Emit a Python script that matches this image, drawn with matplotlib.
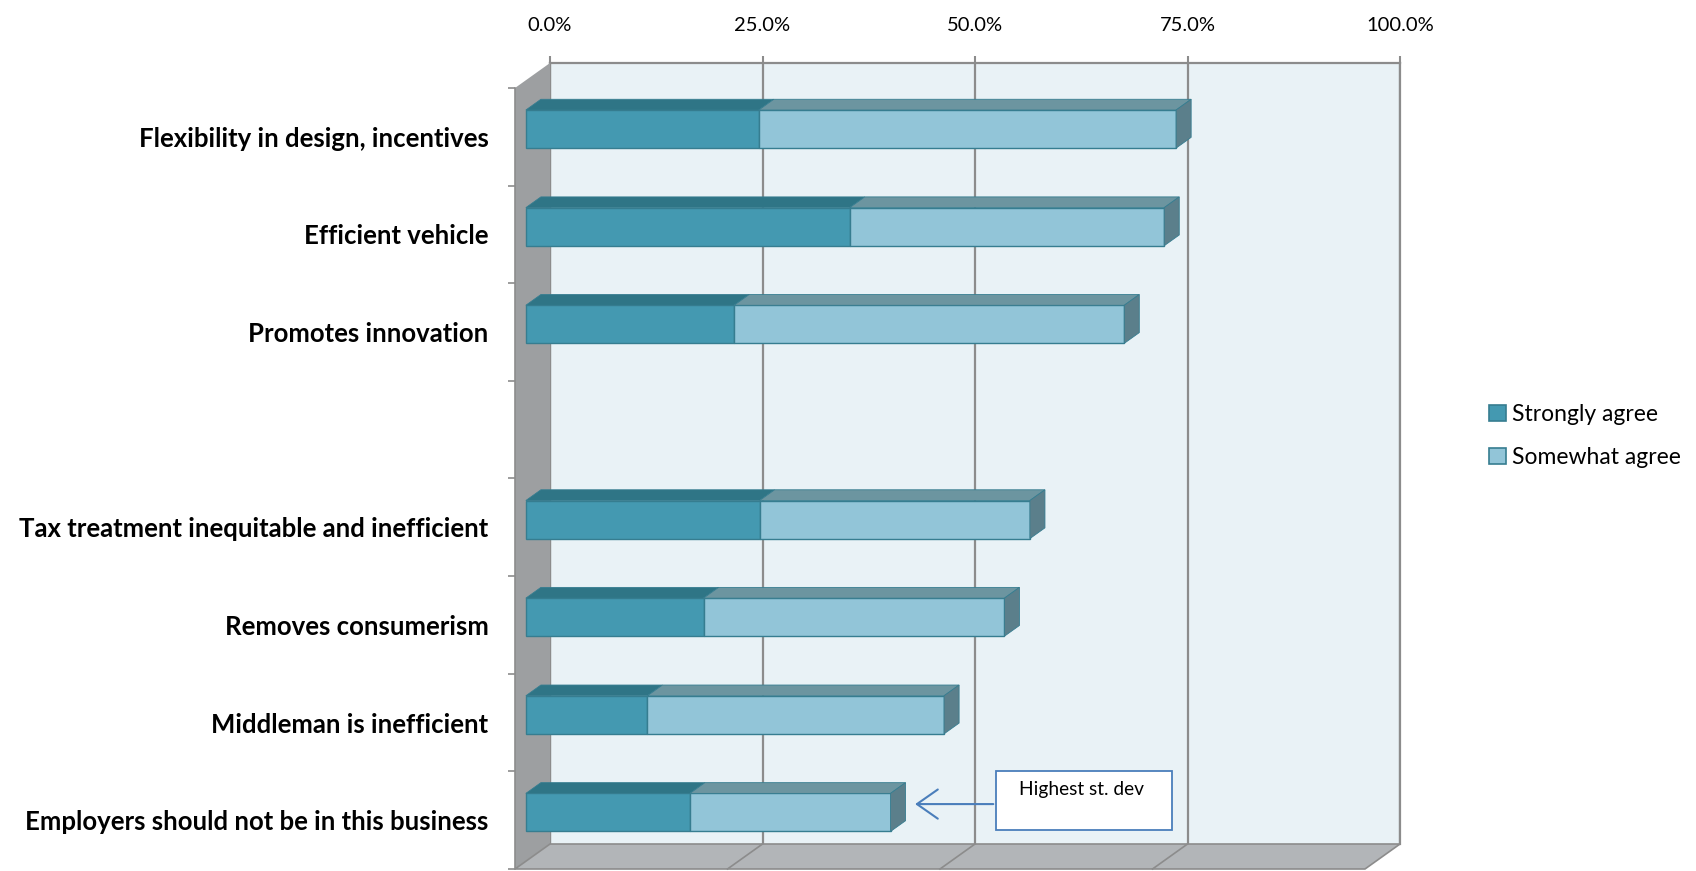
import numpy as np
import matplotlib.pyplot as plt
from matplotlib.patches import Polygon, Patch, Rectangle

# === Data ===
categories = ["Flexibility in design, incentives", "Efficient vehicle", "Promotes innovation", "",
              "Tax treatment inequitable and inefficient", "Removes consumerism",
              "Middleman is inefficient", "Employers should not be in this business"]
strongly_agree = [27.4, 38.1, 24.5, np.nan, 27.5, 20.9, 14.3, 19.3]
somewhat_agree = [49.1, 37.0, 45.9, np.nan, 31.8, 35.4, 34.9, 23.6]
series_names = ["Strongly agree", "Somewhat agree"]
x_ticks = [0, 25, 50, 75, 100]

# === Style ===
plt.rcParams['font.family'] = ['Lato', 'DejaVu Sans']
W, H, DPI = 1696, 871, 100
PX_PER_PCT = 8.5
SLOT_PX = 97.625
DX = 35 / PX_PER_PCT          # depth offset of the back wall, in data units
DY = 25 / SLOT_PX
F0, F1 = 0.31, 0.74           # bar front / back depth fractions
BAR_H = 0.39

front_cols = ['#4499b1', '#92c5d8']
top_cols = ['#2f7586', '#6c95a0']
side_col = '#5b7f8b'
edge_col = '#367d90'
grid_col = '#8c8c8c'

fig = plt.figure(figsize=(W / DPI, H / DPI), dpi=DPI)

# back wall plane
ax_back = fig.add_axes([550 / W, 27 / H, 850 / W, 781 / H])
ax_back.set_xlim(0, 100)
ax_back.set_ylim(0, len(categories))
ax_back.set_facecolor('#e9f2f6')
ax_back.grid(axis='x', color=grid_col, lw=1.6)
ax_back.set_axisbelow(True)
ax_back.xaxis.tick_top()
ax_back.set_xticks(x_ticks)
ax_back.set_xticklabels([f"{t:.1f}%" for t in x_ticks], fontsize=14.5)
ax_back.tick_params(axis='x', length=5, width=1.5, color=grid_col, pad=16)
ax_back.set_yticks([])
for s in ['top', 'right', 'left']:
    ax_back.spines[s].set_color(grid_col)
    ax_back.spines[s].set_linewidth(1.6)
ax_back.spines['bottom'].set_visible(False)

# front plane
ax = fig.add_axes([515 / W, 2 / H, 850 / W, 781 / H], zorder=2)
ax.patch.set_alpha(0)
ax.set_xlim(0, 100)
ax.set_ylim(0, len(categories))
for s in ['top', 'right', 'bottom']:
    ax.spines[s].set_visible(False)
ax.spines['left'].set_color(grid_col)
ax.spines['left'].set_linewidth(1.2)
ax.set_xticks([])

n = len(categories)
ax.set_yticks(np.arange(n + 1))
ax.set_yticklabels([])
ax.tick_params(axis='y', which='major', length=5, width=1.2, color=grid_col)
centers = n - 0.5 - np.arange(n)
ax.set_yticks(centers, minor=True)
ax.set_yticklabels(categories, minor=True, fontsize=18.5, fontweight='bold')
ax.tick_params(axis='y', which='minor', length=0, pad=19)

# left wall and floor
ax.add_patch(Polygon([(0, 0), (DX, DY), (DX, n + DY), (0, n)], closed=True,
                     facecolor='#9d9fa1', edgecolor='none', clip_on=False, zorder=1))
ax.add_patch(Polygon([(0, 0), (100, 0), (100 + DX, DY), (DX, DY)], closed=True,
                     facecolor='#b2b5b8', edgecolor=grid_col, lw=1.2, clip_on=False, zorder=1))
for t in x_ticks[1:-1]:
    ax.plot([t, t + DX], [0, DY], color=grid_col, lw=1.2, clip_on=False, zorder=1)

# === 3D stacked bars ===
fx, fy = F0 * DX, F0 * DY
bx, by = (F1 - F0) * DX, (F1 - F0) * DY
for i, (c, s1, s2) in enumerate(zip(centers, strongly_agree, somewhat_agree)):
    if np.isnan(s1):
        continue
    y0 = c - BAR_H / 2 + fy
    left = 0
    for k, v in enumerate([s1, s2]):
        ax.barh(c + fy, v, left=left + fx, height=BAR_H, color=front_cols[k],
                edgecolor=edge_col, lw=1.0, zorder=3)
        x0 = left + fx
        ax.add_patch(Polygon([(x0, y0 + BAR_H), (x0 + v, y0 + BAR_H),
                              (x0 + v + bx, y0 + BAR_H + by), (x0 + bx, y0 + BAR_H + by)],
                             closed=True, facecolor=top_cols[k], edgecolor=edge_col,
                             lw=0.6, clip_on=False, zorder=3))
        left += v
    xe = left + fx
    ax.add_patch(Polygon([(xe, y0), (xe + bx, y0 + by), (xe + bx, y0 + BAR_H + by), (xe, y0 + BAR_H)],
                         closed=True, facecolor=side_col, edgecolor=edge_col, lw=0.6,
                         clip_on=False, zorder=3))

# === Annotation ===
ax.add_patch(Rectangle((56.6, 0.40), 20.7, 0.60, facecolor='white', edgecolor='#4a7ebb',
                       lw=1.3, clip_on=False, zorder=4))
ax.text(59.3, 0.81, "Highest st. dev", fontsize=13.8, va='center', ha='left', zorder=5)
tip_x = strongly_agree[-1] + somewhat_agree[-1] + F1 * DX + 0.8
ax.annotate("", xy=(tip_x, 0.665), xytext=(56.6, 0.665),
            arrowprops=dict(arrowstyle='->, head_length=0.5, head_width=0.35',
                            color='#4a7ebb', lw=1.5, mutation_scale=30),
            zorder=5)

# === Legend ===
handles = [Patch(facecolor=front_cols[k], edgecolor=edge_col, lw=1.2) for k in range(2)]
fig.legend(handles, series_names, loc='center left', bbox_to_anchor=(1489 / W, 1 - 436 / H),
           frameon=False, fontsize=16.5, handlelength=0.72, handleheight=0.72,
           handletextpad=0.28, labelspacing=0.95, borderpad=0, borderaxespad=0)

fig.savefig("out.png", dpi=DPI)
